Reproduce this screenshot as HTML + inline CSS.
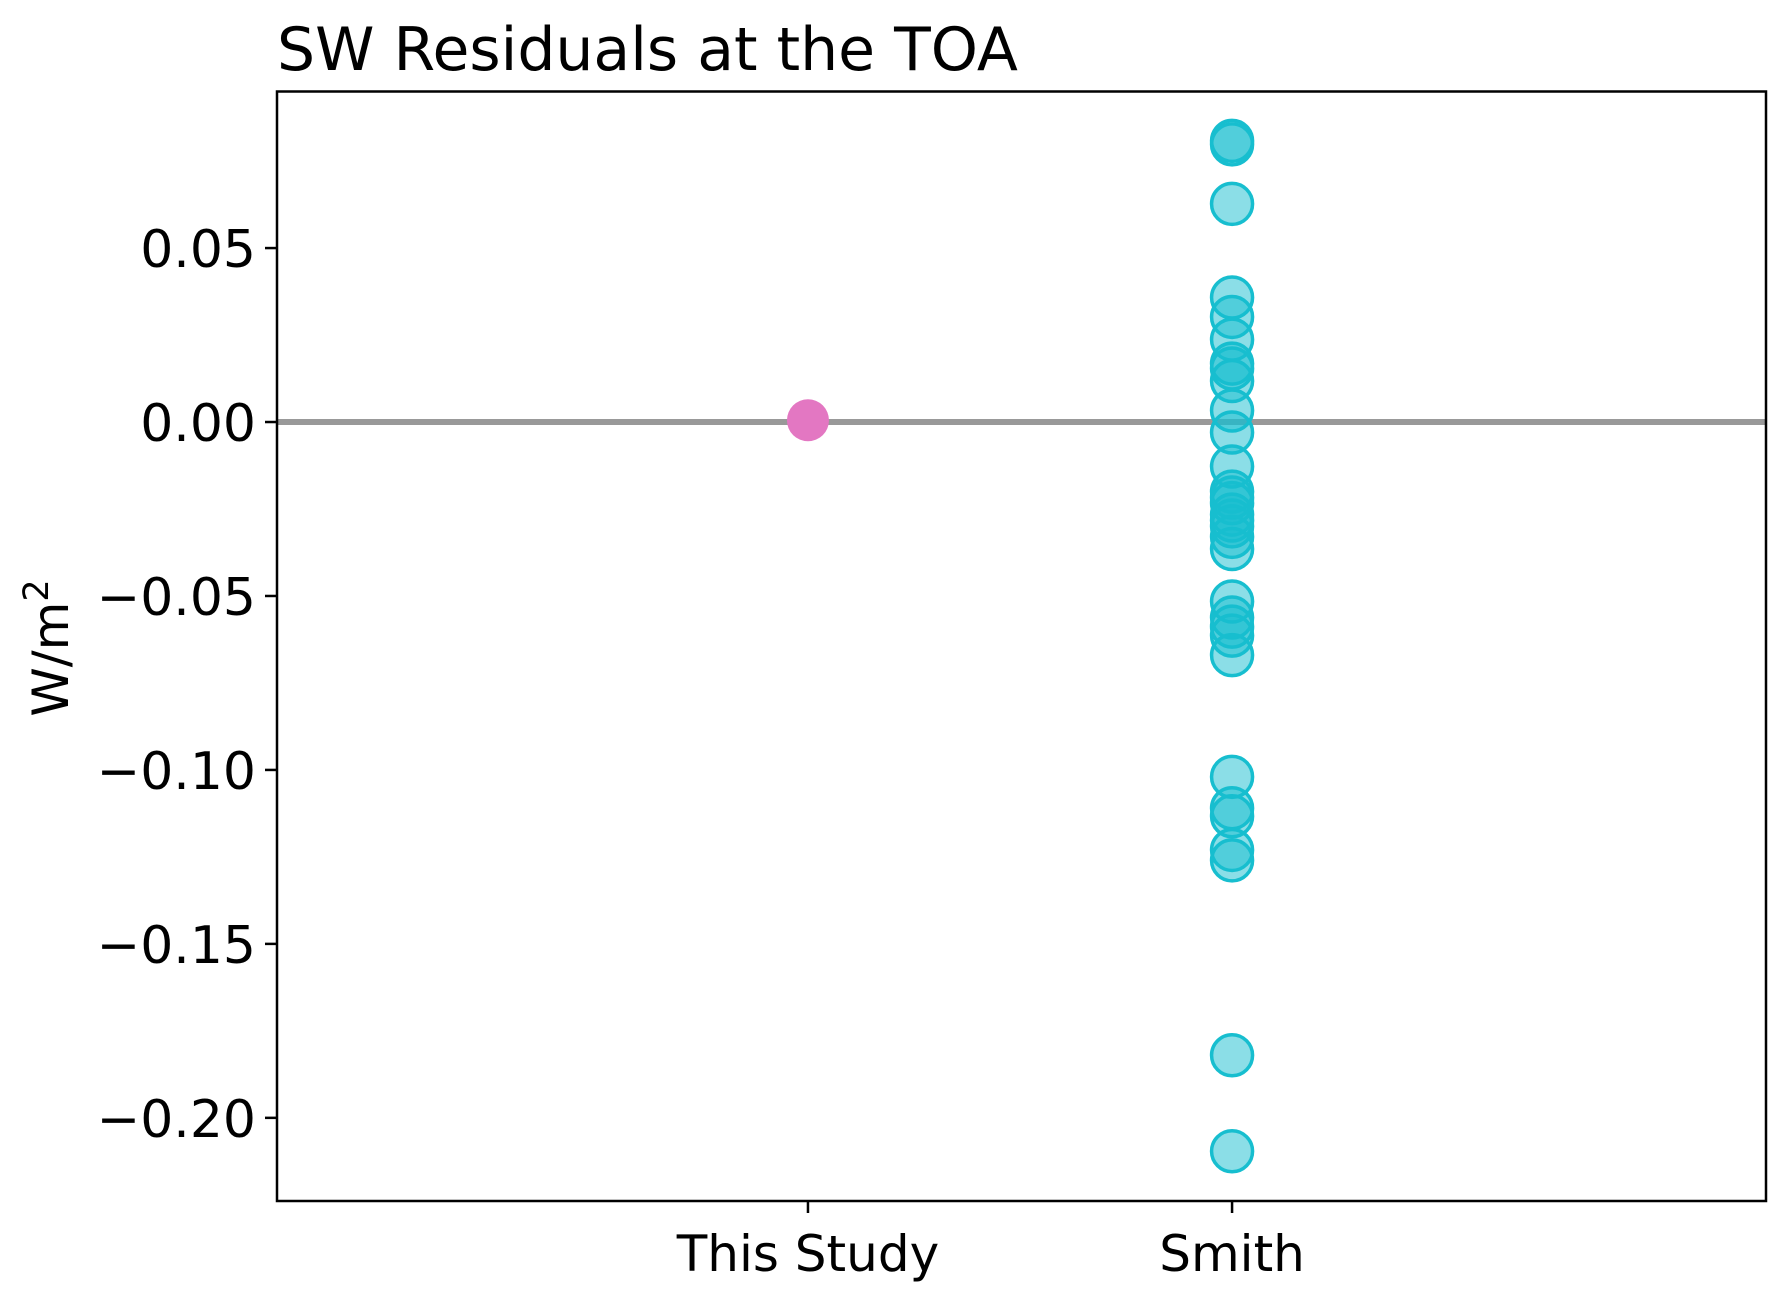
<!DOCTYPE html>
<html><head><meta charset="utf-8"><style>
html,body{margin:0;padding:0;background:#fff;}
svg{display:block;font-family:"DejaVu Sans","Liberation Sans",sans-serif;}
</style></head><body>
<svg id="chart" width="1791" height="1304" viewBox="0 0 1791 1304">
<text x="277" y="70" font-size="60" fill="#000">SW Residuals at the TOA</text>
<text transform="translate(68,648) rotate(-90)" text-anchor="middle" font-size="50">W/m<tspan dy="-20" font-size="35">2</tspan></text>
<g id="yticks"></g>
<g id="xticks"></g>
<line id="zero" stroke="#999" stroke-width="6"></line>
<g id="marks"></g>
<rect x="277" y="91.5" width="1489" height="1109.5" fill="none" stroke="#000" stroke-width="2.5"></rect>
</svg>
<script>
const categories = ["This Study", "Smith"];
const thisStudyValues = [0.0005];
const smithValues = [0.0808, 0.0798, 0.0627, 0.0358, 0.0302, 0.0237, 0.0168, 0.0154, 0.0118, 0.0033, -0.003, -0.0128, -0.0200, -0.0217, -0.0233, -0.0266, -0.0283, -0.0300, -0.0330, -0.0365, -0.0516, -0.0562, -0.0588, -0.0614, -0.0670, -0.1020, -0.1110, -0.1133, -0.1230, -0.1260, -0.1820, -0.2096];
const yTickValues = [0.05, 0.00, -0.05, -0.10, -0.15, -0.20];
const yTickLabels = ["0.05", "0.00", "\u22120.05", "\u22120.10", "\u22120.15", "\u22120.20"];

const L=277,R=1766,T=91.5,B=1201;
const yMin=-0.2239,yMax=0.0950,xMin=-1.252,xMax=2.259;
const y=v=>B-(v-yMin)/(yMax-yMin)*(B-T);
const x=i=>L+(i-xMin)/(xMax-xMin)*(R-L);
const NS="http://www.w3.org/2000/svg";
function mk(tag,attrs,parent){const e=document.createElementNS(NS,tag);for(const k in attrs)e.setAttribute(k,attrs[k]);parent.appendChild(e);return e;}
const yt=document.getElementById('yticks');
yTickValues.forEach((v,i)=>{
  const l=mk('line',{x1:L-12,x2:L,y1:y(v),y2:y(v),stroke:'#000','stroke-width':2.5},yt);
  
  
  const t=mk('text',{x:L-21,y:y(v)+19,'text-anchor':'end','font-size':52},yt);
  t.textContent=yTickLabels[i];
  
  
});
const xt=document.getElementById('xticks');
categories.forEach((c,i)=>{
  const l=mk('line',{x1:x(i),x2:x(i),y1:B,y2:B+12,stroke:'#000','stroke-width':2.5},xt);
  
  
  const t=mk('text',{x:x(i),y:B+70,'text-anchor':'middle','font-size':50},xt);
  t.textContent=c;
  
  
});
const z=document.getElementById('zero');
z.setAttribute('x1',L);z.setAttribute('x2',R);z.setAttribute('y1',y(0));z.setAttribute('y2',y(0));
const m=document.getElementById('marks');
thisStudyValues.forEach(v=>{
  const c=mk('circle',{cx:x(0),cy:y(v),r:21,fill:'#e377c2'},m);
  
  
});
smithValues.forEach(v=>{
  const c=mk('circle',{cx:x(1),cy:y(v),r:20.5,fill:'rgba(23,190,207,0.5)',stroke:'#17becf','stroke-width':3.5},m);
  
  
});
</script>
</body></html>
